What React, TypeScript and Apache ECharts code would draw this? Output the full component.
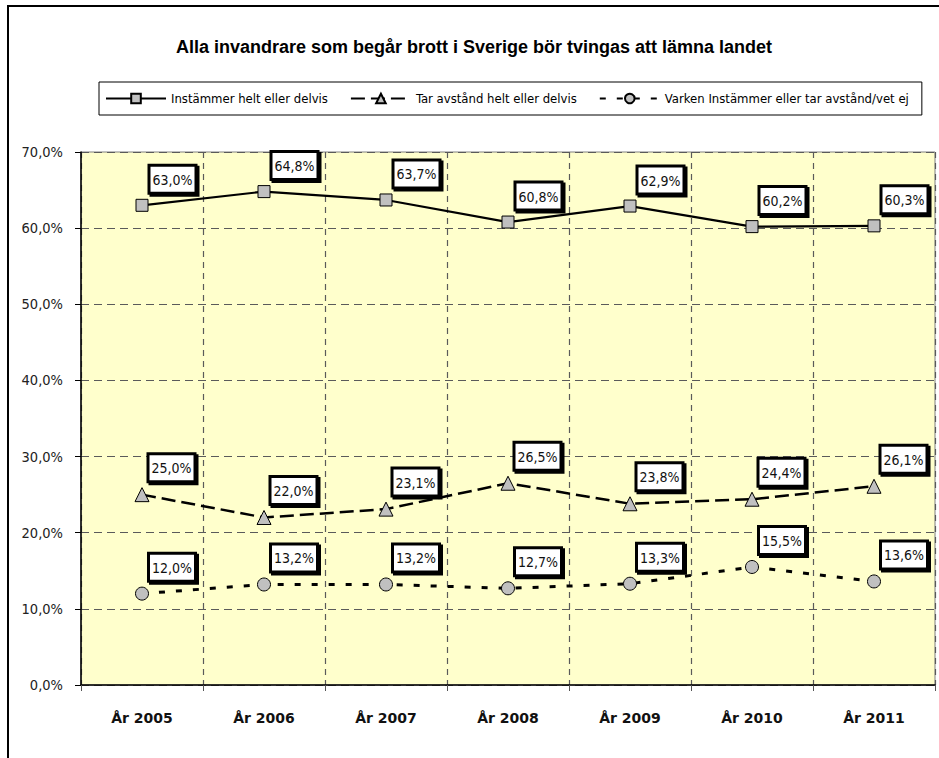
import React, { useEffect, useRef } from "react";
import * as echarts from "echarts";

const categories = ["År 2005", "År 2006", "År 2007", "År 2008", "År 2009", "År 2010", "År 2011"];
const seriesNames = [
  "Instämmer helt eller delvis",
  "Tar avstånd helt eller delvis",
  "Varken Instämmer eller tar avstånd/vet ej",
];
const instammer = [63.0, 64.8, 63.7, 60.8, 62.9, 60.2, 60.3];
const tarAvstand = [25.0, 22.0, 23.1, 26.5, 23.8, 24.4, 26.1];
const varken = [12.0, 13.2, 13.2, 12.7, 13.3, 15.5, 13.6];
const titleText = "Alla invandrare som begår brott i Sverige bör tvingas att lämna landet";

const NARROW = "'DejaVu Sans Condensed', 'Liberation Sans', sans-serif";

const fmt = (v: number) => v.toFixed(1).replace(".", ",") + "%";

const labelStyle = {
  show: true,
  position: [15, -32] as any,
  align: "left",
  verticalAlign: "top",
  formatter: (p: any) => fmt(p.value),
  fontFamily: NARROW,
  fontSize: 14,
  color: "#111",
  backgroundColor: "#fff",
  borderColor: "#000",
  borderWidth: 3,
  padding: [6, 2, 5, 2],
  shadowColor: "#000",
  shadowBlur: 0,
  shadowOffsetX: 2,
  shadowOffsetY: 2,
};

export default function App() {
  const ref = useRef<HTMLDivElement>(null);
  useEffect(() => {
    if (!ref.current) return;
    const chart = echarts.init(ref.current, null, { renderer: "svg" });
    const mk = (name: string, data: number[], symbol: string, size: number, lineType: any, lw: number) => ({
      name,
      type: "line",
      data,
      symbol,
      symbolSize: size,
      lineStyle: { color: "#000", width: lw, type: lineType },
      itemStyle: { color: "#c0c0c0", borderColor: "#000", borderWidth: 1 },
      label: labelStyle,
      z: 3,
    });
    chart.setOption({
      animation: false,
      backgroundColor: "#fff",
      title: {
        text: titleText,
        left: 469,
        top: 33,
        textAlign: "center",
        textStyle: { fontFamily: "'Liberation Sans', Arial, sans-serif", fontWeight: "bold", fontSize: 18, color: "#000" },
      },
      legend: {
        left: 99,
        top: 82,
        itemWidth: 60,
        itemHeight: 12,
        itemGap: 22,
        padding: [10, 13, 10, 6],
        borderColor: "#000",
        borderWidth: 1,
        textStyle: { fontFamily: NARROW, fontSize: 13, color: "#000" },
        data: seriesNames,
      },
      grid: {
        left: 81,
        right: 4,
        top: 152,
        bottom: 73,
        show: true,
        backgroundColor: "#ffffcc",
        borderColor: "#808080",
        borderWidth: 1,
      },
      xAxis: {
        type: "category",
        data: categories,
        boundaryGap: true,
        axisLine: { lineStyle: { color: "#000", width: 1.5 } },
        axisTick: { show: true, length: 6, lineStyle: { color: "#555" } },
        splitLine: { show: true, lineStyle: { color: "#5a5a5a", type: [6, 5], width: 1.2 } },
        axisLabel: {
          margin: 26,
          fontFamily: "'DejaVu Sans', sans-serif",
          fontWeight: "bold",
          fontSize: 14,
          color: "#111",
        },
      },
      yAxis: {
        type: "value",
        min: 0,
        max: 70,
        interval: 10,
        axisLine: { show: true, lineStyle: { color: "#000", width: 1.5 } },
        axisTick: { show: true, length: 6, lineStyle: { color: "#000" } },
        splitLine: { show: true, lineStyle: { color: "#5a5a5a", type: [8, 5], width: 1.2 } },
        axisLabel: {
          margin: 18,
          formatter: (v: number) => fmt(v),
          fontFamily: NARROW,
          fontSize: 14.5,
          color: "#222",
        },
      },
      graphic: [
        {
          type: "rect",
          shape: { x: 8, y: 6, width: 2000, height: 2000 },
          style: { fill: "none", stroke: "#000", lineWidth: 2 },
          silent: true,
        },
      ],
      series: [
        mk(seriesNames[0], instammer, "rect", 12, "solid", 2.2),
        mk(seriesNames[1], tarAvstand, "triangle", 14, [14, 6], 2.5),
        mk(seriesNames[2], varken, "circle", 13, [6, 11], 3),
      ],
    });
    return () => chart.dispose();
  }, []);
  return <div ref={ref} style={{ position: "absolute", left: 0, top: 0, width: 939, height: 758 }} />;
}
